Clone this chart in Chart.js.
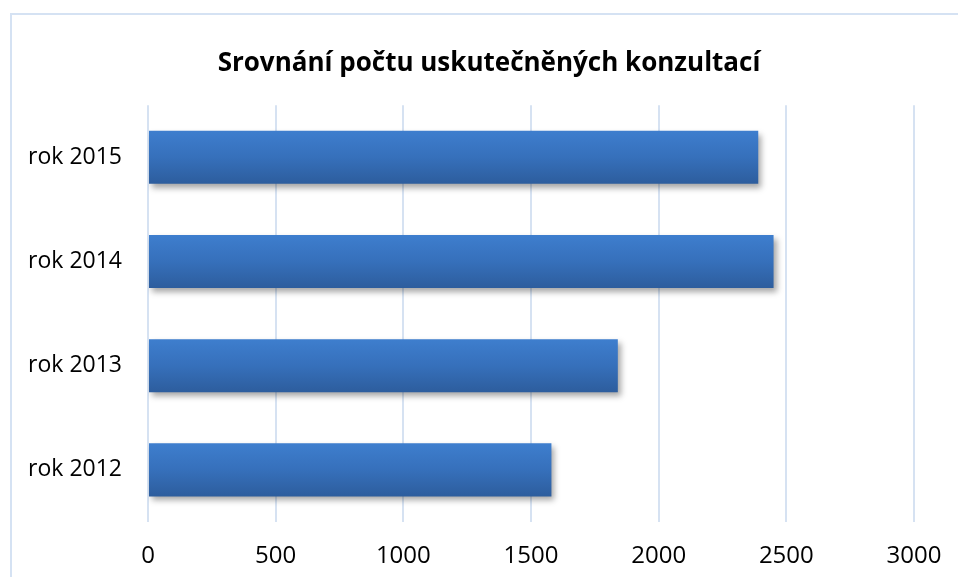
<!DOCTYPE html>
<html>

<head>
    <title>Srovnání počtu uskutečněných konzultací</title>
    <script src="https://cdn.jsdelivr.net/npm/chart.js"></script>
    <style>
        html, body { margin: 0; padding: 0; background: #ffffff; }
        #wrap { width: 958px; height: 577px; position: relative; }
    </style>
</head>

<body>
    <div id="wrap">
        <canvas id="konzultace-chart" width="958" height="577"></canvas>
    </div>

    <script>
        // Data
        const years = ['rok 2015', 'rok 2014', 'rok 2013', 'rok 2012'];
        const consultations = [2390, 2450, 1840, 1580];
        const xTicks = [0, 500, 1000, 1500, 2000, 2500, 3000];

        const FONT = '"Open Sans", Lato, sans-serif';
        const BAR_PCT = 0.51;

        // vertical gradient for each bar, lighter at the top
        function barGradient(context) {
            const chart = context.chart;
            const yScale = chart.scales.y;
            if (!chart.chartArea || !yScale || context.dataIndex === undefined) return '#3a74c0';
            const band = (yScale.bottom - yScale.top) / years.length;
            const center = yScale.getPixelForValue(context.dataIndex);
            const half = band * BAR_PCT / 2;
            if (!isFinite(center) || !isFinite(half)) return '#3a74c0';
            const g = chart.ctx.createLinearGradient(0, center - half, 0, center + half);
            g.addColorStop(0, '#3e7ece');
            g.addColorStop(0.5, '#3670bb');
            g.addColorStop(1, '#2d5d9d');
            return g;
        }

        // light blue outer frame like the spreadsheet chart area
        const framePlugin = {
            id: 'frame',
            beforeDraw(chart) {
                const ctx = chart.ctx;
                ctx.save();
                ctx.strokeStyle = '#d5e2f3';
                ctx.lineWidth = 2;
                ctx.strokeRect(11, 14, 960, 600);
                ctx.restore();
            }
        };

        // soft drop shadow under the bars
        const shadowPlugin = {
            id: 'barShadow',
            beforeDatasetDraw(chart) {
                const ctx = chart.ctx;
                ctx.save();
                ctx.shadowColor = 'rgba(0, 0, 0, 0.35)';
                ctx.shadowBlur = 6;
                ctx.shadowOffsetX = 3;
                ctx.shadowOffsetY = 4;
            },
            afterDatasetDraw(chart) {
                chart.ctx.restore();
            }
        };

        const ctx = document.getElementById('konzultace-chart').getContext('2d');
        new Chart(ctx, {
            type: 'bar',
            data: {
                labels: years,
                datasets: [{
                    data: consultations,
                    backgroundColor: barGradient,
                    borderWidth: 0,
                    categoryPercentage: 1,
                    barPercentage: BAR_PCT
                }]
            },
            plugins: [framePlugin, shadowPlugin],
            options: {
                indexAxis: 'y',
                responsive: false,
                animation: false,
                layout: {
                    padding: { left: 20, right: 0, top: 0, bottom: 0 }
                },
                plugins: {
                    legend: { display: false },
                    tooltip: { enabled: false },
                    title: {
                        display: true,
                        text: 'Srovnání počtu uskutečněných konzultací',
                        color: '#000000',
                        font: { family: FONT, size: 26, weight: 'bold' },
                        padding: { top: 48, bottom: 26 }
                    }
                },
                scales: {
                    x: {
                        min: 0,
                        max: 3000,
                        afterBuildTicks(scale) {
                            scale.ticks = xTicks.map(v => ({ value: v }));
                        },
                        afterFit(scale) {
                            scale.height = 55;
                            scale.paddingRight = 44;
                        },
                        grid: {
                            color: '#d6e2f2',
                            lineWidth: 2,
                            drawTicks: false
                        },
                        border: { display: false },
                        ticks: {
                            color: '#000000',
                            padding: 20,
                            font: { family: FONT, size: 24 },
                            callback: v => String(v)
                        }
                    },
                    y: {
                        afterFit(scale) {
                            scale.width = 128;
                        },
                        grid: { display: false, drawTicks: false },
                        border: { display: false },
                        ticks: {
                            color: '#000000',
                            padding: 26,
                            font: { family: FONT, size: 23 }
                        }
                    }
                }
            }
        });
    </script>
</body>

</html>
